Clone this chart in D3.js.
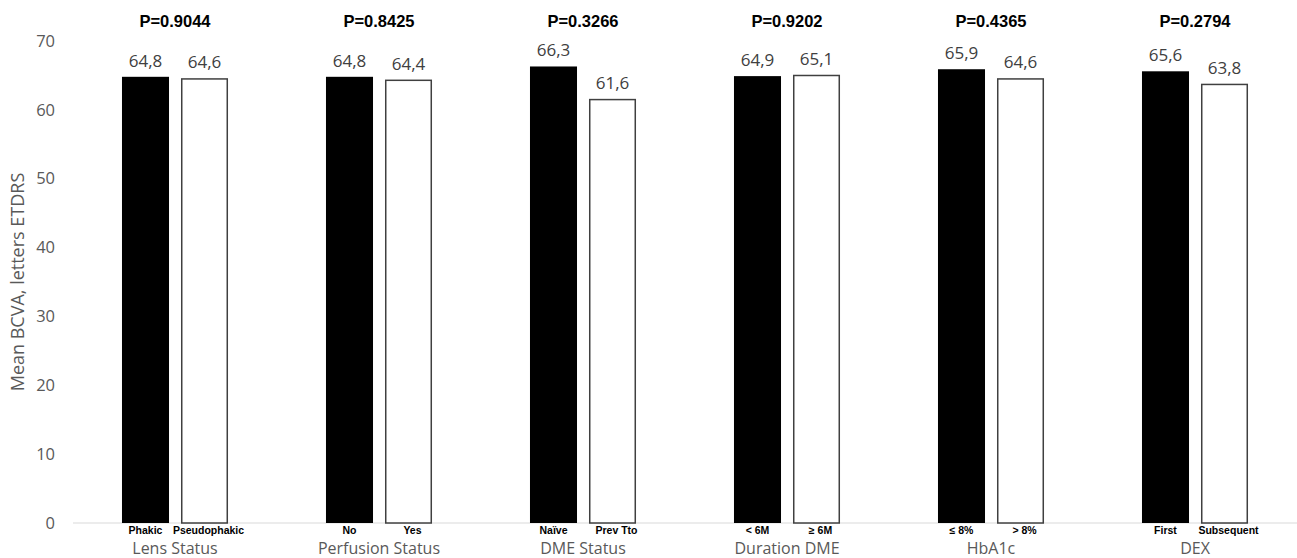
<!DOCTYPE html>
<html>
<head>
<meta charset="utf-8">
<script src="https://cdn.jsdelivr.net/npm/d3@7/dist/d3.min.js"></script>
<style>
  html, body { margin: 0; padding: 0; background: #fff; }
  svg { display: block; }
</style>
</head>
<body>
<svg id="chart" width="1297" height="558"></svg>
<script>
// ---- Data ----
const categories = ["Lens Status", "Perfusion Status", "DME Status", "Duration DME", "HbA1c", "DEX"];
const subLabelsA = ["Phakic", "No", "Naïve", "< 6M", "≤ 8%", "First"];
const subLabelsB = ["Pseudophakic", "Yes", "Prev Tto", "≥ 6M", "> 8%", "Subsequent"];
const valuesA = [64.8, 64.8, 66.3, 64.9, 65.9, 65.6];
const valuesB = [64.6, 64.4, 61.6, 65.1, 64.6, 63.8];
const pValues = ["P=0.9044", "P=0.8425", "P=0.3266", "P=0.9202", "P=0.4365", "P=0.2794"];
const yTicks = [0, 10, 20, 30, 40, 50, 60, 70];
const yTitle = "Mean BCVA, letters ETDRS";

// ---- Layout ----
const svg = d3.select("#chart");
const x0 = d3.scaleBand().domain(categories).range([73, 1297]).paddingInner(0).paddingOuter(0);
const x1 = d3.scaleBand().domain(["A", "B"]).range([0, x0.bandwidth()]).paddingInner(0.203).paddingOuter(0.83);
const y = d3.scaleLinear().domain([0, 70]).range([523, 41]);

const grayText = "#595959";
const labelText = "#404040";
const sans = "'Open Sans', 'Noto Sans', sans-serif";
const fmt = v => d3.format(".1f")(v).replace(".", ",");

// Y axis (labels only)
const yAxis = d3.axisLeft(y).tickValues(yTicks).tickSize(0).tickPadding(0);
const gy = svg.append("g").attr("transform", "translate(55,0)").call(yAxis);
gy.select(".domain").remove();
gy.selectAll("text")
  .attr("fill", grayText)
  .style("font-family", sans)
  .style("font-size", "16.5px");

// Y title
svg.append("text")
  .attr("transform", `translate(24,${(y(0) + y(70)) / 2 + 0}) rotate(-90)`)
  .attr("text-anchor", "middle")
  .attr("fill", grayText)
  .style("font-family", sans)
  .style("font-size", "18px")
  .text(yTitle);

// Baseline
svg.append("line")
  .attr("x1", 73).attr("x2", 1297)
  .attr("y1", y(0)).attr("y2", y(0))
  .attr("stroke", "#d9d9d9").attr("stroke-width", 1.2);

const rows = categories.map((c, i) => ({
  cat: c, a: valuesA[i], b: valuesB[i], la: subLabelsA[i], lb: subLabelsB[i], p: pValues[i]
}));

const g = svg.selectAll("g.grp").data(rows).join("g")
  .attr("class", "grp")
  .attr("transform", d => `translate(${x0(d.cat)},0)`);

// Bars
g.append("rect")
  .attr("x", x1("A")).attr("width", x1.bandwidth())
  .attr("y", d => y(d.a)).attr("height", d => y(0) - y(d.a))
  .attr("fill", "#000");
g.append("rect")
  .attr("x", x1("B") + 0.75).attr("width", x1.bandwidth() - 1.5)
  .attr("y", d => y(d.b) + 0.75).attr("height", d => y(0) - y(d.b) - 0.75)
  .attr("fill", "#fff").attr("stroke", "#404040").attr("stroke-width", 1.5);

// Value labels
g.append("text")
  .attr("x", x1("A") + x1.bandwidth() / 2).attr("y", d => y(d.a) - 10)
  .attr("text-anchor", "middle").attr("fill", labelText)
  .style("font-family", sans).style("font-size", "17px")
  .text(d => fmt(d.a));
g.append("text")
  .attr("x", x1("B") + x1.bandwidth() / 2).attr("y", d => y(d.b) - 10)
  .attr("text-anchor", "middle").attr("fill", labelText)
  .style("font-family", sans).style("font-size", "17px")
  .text(d => fmt(d.b));

// P values
g.append("text")
  .attr("x", x0.bandwidth() / 2).attr("y", 27)
  .attr("text-anchor", "middle").attr("fill", "#000")
  .style("font-family", "'Liberation Sans', Arial, sans-serif")
  .style("font-weight", "bold").style("font-size", "16.5px")
  .text(d => d.p);

// Sub labels
g.append("text")
  .attr("x", x1("A") + x1.bandwidth() / 2).attr("y", 534)
  .attr("text-anchor", "middle").attr("fill", "#000")
  .style("font-family", "'Liberation Sans', Arial, sans-serif")
  .style("font-weight", "bold").style("font-size", "10.5px")
  .text(d => d.la);
g.append("text")
  .attr("x", x1("B") + x1.bandwidth() / 2 + 4).attr("y", 534)
  .attr("text-anchor", "middle").attr("fill", "#000")
  .style("font-family", "'Liberation Sans', Arial, sans-serif")
  .style("font-weight", "bold").style("font-size", "10.5px")
  .text(d => d.lb);

// Category labels
g.append("text")
  .attr("x", x0.bandwidth() / 2).attr("y", 554)
  .attr("text-anchor", "middle").attr("fill", grayText)
  .style("font-family", sans).style("font-size", "16px")
  .text(d => d.cat);
</script>
</body>
</html>
